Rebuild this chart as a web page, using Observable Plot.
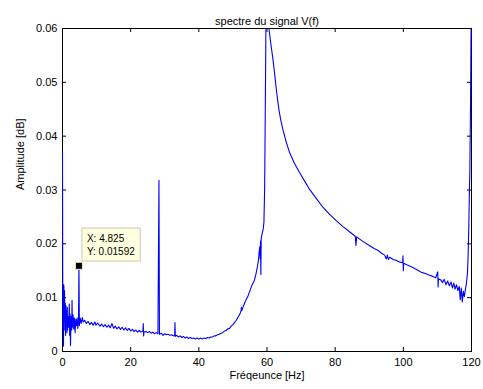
<!DOCTYPE html>
<html><head><meta charset="utf-8">
<script src="https://cdn.jsdelivr.net/npm/d3@7"></script>
<script src="https://cdn.jsdelivr.net/npm/@observablehq/plot@0.6"></script>
<style>body{margin:0;background:#fff} svg{display:block}</style>
</head><body><div id="chart"></div>
<script>
const title = "spectre du signal V(f)";
const xLabel = "Fréqeunce [Hz]";
const yLabel = "Amplitude [dB]";
const xTicks = [0, 20, 40, 60, 80, 100, 120];
const yTicks = [0, 0.01, 0.02, 0.03, 0.04, 0.05, 0.06];
const tipX = 4.825;
const tipY = 0.01592;

const freq = [
  0, 0.1, 0.2, 0.3, 0.4, 0.5, 0.6, 0.7, 0.8, 0.9, 1.0, 1.1, 1.2, 1.3, 1.4, 1.5, 1.6, 1.8, 2.0, 2.1,
  2.2, 2.35, 2.5, 2.7, 2.8, 2.9, 3.1, 3.3, 3.5, 3.7, 3.9, 4.1, 4.3, 4.5, 4.7, 4.825, 4.95, 5.2, 5.5, 5.8,
  6.1, 6.5, 7.0, 7.5, 8.0, 8.5, 9.0, 9.5, 9.8, 10.3, 11, 11.5, 12, 12.5, 13, 13.5, 14, 14.5, 15, 15.5,
  16, 16.5, 17, 17.5, 18, 18.5, 19, 19.5, 20, 20.5, 21, 21.5, 22, 22.5, 23, 23.6, 23.7, 23.8, 23.9, 24.5,
  25, 25.5, 26, 26.5, 27, 27.5, 28, 28.3, 28.45, 29, 29.5, 30, 30.5, 31, 31.5, 32, 32.5, 32.9, 33.0, 33.1,
  33.5, 34, 34.5, 35, 35.5, 36, 36.5, 37, 37.5, 38, 38.5, 39, 39.5, 40, 40.5, 41, 41.5, 42, 42.5, 43,
  43.5, 44, 44.5, 45, 45.5, 46, 46.5, 47, 47.5, 48, 48.5, 49, 49.5, 50, 50.5, 51, 51.5, 52, 52.4, 52.5,
  52.6, 53, 53.5, 54, 54.3, 55, 55.5, 56, 56.3, 56.8, 57.2, 57.5, 57.7, 57.9, 58.0, 58.1, 58.2, 58.3, 58.6, 58.9,
  59.1, 59.3, 59.5, 59.7, 59.85, 60.0, 60.2, 60.5, 60.7, 61.2, 61.7, 62.2, 62.6, 63.1, 63.6, 64.1, 64.6, 65.5, 66.6, 68,
  69.5, 71, 72.4, 74.5, 76.4, 78.3, 80.3, 82.3, 84.3, 85.9, 86.1, 86.3, 88, 90, 91.6, 92.5, 93.5, 94.5, 95.0, 95.3,
  95.6, 96, 97, 98, 99, 99.8, 99.9, 100.0, 100.1, 101, 102.5, 104, 105.3, 106.5, 107.5, 108.5, 109.5, 110.1, 110.2, 110.3,
  111, 111.5, 112, 112.5, 113, 113.5, 114, 114.4, 114.8, 115.2, 115.6, 116, 116.4, 116.7, 117.0, 117.3, 117.6, 117.9, 118.2, 118.5,
  118.8, 119.0, 119.2, 119.4, 119.5, 119.7, 119.85, 120
];
const amp = [
  0.037, 0.004, 0.0125, 0.001, 0.0123, 0.006, 0.0113, 0.004, 0.009, 0.003, 0.0085, 0.005, 0.0075, 0.0035, 0.0082, 0.004, 0.0065, 0.0045, 0.0088, 0.003,
  0.007, 0.0011, 0.0065, 0.004, 0.0095, 0.0045, 0.0068, 0.0042, 0.0062, 0.0035, 0.006, 0.0048, 0.0062, 0.0043, 0.0058, 0.01592, 0.0048, 0.0062, 0.0052, 0.0063,
  0.0055, 0.0058, 0.0052, 0.0056, 0.005, 0.0054, 0.0049, 0.0055, 0.0049, 0.0053, 0.0047, 0.0051, 0.0046, 0.005, 0.0045, 0.0049, 0.0044, 0.0052, 0.0043, 0.0047,
  0.0042, 0.0046, 0.0041, 0.0045, 0.004, 0.0044, 0.0039, 0.0043, 0.0038, 0.0041, 0.0037, 0.004, 0.0036, 0.0039, 0.0036, 0.0038, 0.0052, 0.0029, 0.0036, 0.0037,
  0.0035, 0.0037, 0.0034, 0.0036, 0.0033, 0.0035, 0.0033, 0.0318, 0.0032, 0.0034, 0.003, 0.0033, 0.0031, 0.0032, 0.003, 0.0031, 0.0029, 0.003, 0.0054, 0.0028,
  0.003, 0.0027, 0.0029, 0.0026, 0.0028, 0.0025, 0.0027, 0.0024, 0.0026, 0.0024, 0.0025, 0.0023, 0.0025, 0.0023, 0.0025, 0.0023, 0.0025, 0.0024, 0.0026, 0.0025,
  0.0027, 0.0027, 0.0029, 0.0029, 0.0031, 0.0032, 0.0034, 0.0035, 0.0038, 0.0039, 0.0042, 0.0043, 0.0047, 0.005, 0.0054, 0.0058, 0.0064, 0.0069, 0.0076, 0.0082,
  0.0076, 0.0083, 0.0091, 0.0098, 0.0101, 0.0113, 0.0122, 0.0128, 0.0132, 0.0145, 0.0158, 0.017, 0.0185, 0.0195, 0.0172, 0.0205, 0.0143, 0.021, 0.022, 0.0228,
  0.024, 0.03, 0.045, 0.062, 0.075, 0.068, 0.063, 0.0605, 0.0593, 0.0568, 0.0545, 0.0518, 0.0494, 0.0468, 0.0445, 0.0428, 0.0414, 0.0392, 0.037, 0.035,
  0.0333, 0.0317, 0.0302, 0.0284, 0.0268, 0.0255, 0.0243, 0.0232, 0.0222, 0.0214, 0.0197, 0.0213, 0.0205, 0.0197, 0.0191, 0.0188, 0.0183, 0.0179, 0.0172, 0.0179,
  0.0171, 0.0175, 0.0171, 0.0169, 0.0166, 0.0165, 0.0178, 0.015, 0.0164, 0.0161, 0.0157, 0.0152, 0.0147, 0.0145, 0.0142, 0.014, 0.0137, 0.0148, 0.012, 0.0135,
  0.0133, 0.0128, 0.0134, 0.0124, 0.0131, 0.0122, 0.0129, 0.0118, 0.0127, 0.0116, 0.0124, 0.0113, 0.0121, 0.0096, 0.0118, 0.0092, 0.0112, 0.0102, 0.0115, 0.0126,
  0.0145, 0.0175, 0.0231, 0.03, 0.033, 0.045, 0.058, 0.07
];

const data = freq.map((f, i) => ({f, a: amp[i]}));
const W = 483, H = 389;
const mL = 62, mR = 12, mT = 28, mB = 38;
const fw = W - mL - mR, fh = H - mT - mB;
const font = "'Liberation Sans', Arial, sans-serif";

const chart = Plot.plot({
  width: W, height: H,
  marginLeft: mL, marginRight: mR, marginTop: mT, marginBottom: mB,
  style: {fontFamily: font, fontSize: "11px", color: "black", background: "white"},
  x: {domain: [0, 120], ticks: xTicks, tickSize: 0, tickPadding: 7, label: null},
  y: {domain: [0, 0.06], ticks: yTicks, tickSize: 0, tickPadding: 5, label: null,
      tickFormat: d => d === 0 ? "0" : d.toFixed(2)},
  marks: [
    Plot.frame({stroke: "black"}),
    Plot.tickX(xTicks, {x: d => d, insetTop: fh - 4, stroke: "black"}),
    Plot.tickX(xTicks, {x: d => d, insetBottom: fh - 4, stroke: "black"}),
    Plot.tickY(yTicks, {y: d => d, insetRight: fw - 4, stroke: "black"}),
    Plot.tickY(yTicks, {y: d => d, insetLeft: fw - 4, stroke: "black"}),
    Plot.line(data, {x: "f", y: "a", stroke: "#0000ff", strokeWidth: 1.1}),
    Plot.text([title], {text: d => d, frameAnchor: "top", dy: -11, fontSize: 11}),
    Plot.text([xLabel], {text: d => d, frameAnchor: "bottom", dy: 27, fontSize: 11}),
    Plot.text([yLabel], {text: d => d, frameAnchor: "left", dx: -42, rotate: -90, fontSize: 11}),
    Plot.dot([{f: tipX, a: tipY}], {x: "f", y: "a", symbol: "square", r: 4, fill: "black", stroke: "#f0f0b0", strokeWidth: 1}),
    Plot.text([{f: tipX, a: tipY}], {x: "f", y: "a", text: d => `X: ${d.f}\nY: ${d.a}`,
      textAnchor: "start", lineAnchor: "top", dx: 8, dy: -33, fontSize: 10, lineHeight: 1.3,
      fill: "black"})
  ]
});
document.getElementById("chart").appendChild(chart);

// clip the spectrum line to the plot frame (values run above 0.06 at 60 Hz and 120 Hz)
(function clipLine() {
  const ns = "http://www.w3.org/2000/svg";
  const defs = document.createElementNS(ns, "defs");
  const cp = document.createElementNS(ns, "clipPath");
  cp.setAttribute("id", "frameclip");
  const r = document.createElementNS(ns, "rect");
  r.setAttribute("x", mL - 2); r.setAttribute("y", mT);
  r.setAttribute("width", fw + 4); r.setAttribute("height", fh + 2);
  cp.appendChild(r); defs.appendChild(cp); chart.insertBefore(defs, chart.firstChild);
  chart.querySelectorAll("path").forEach(p => {
    if ((p.getAttribute("stroke") || p.parentNode.getAttribute("stroke")) === "#0000ff") {
      p.setAttribute("clip-path", "url(#frameclip)");
    }
  });
})();

// background box for the data tip, sized from the rendered text
const tipText = Array.from(chart.querySelectorAll("text")).find(t => t.textContent.includes("X:"));
if (tipText) {
  const bb = tipText.getBBox();
  const rect = document.createElementNS("http://www.w3.org/2000/svg", "rect");
  rect.setAttribute("x", bb.x - 5);
  rect.setAttribute("y", bb.y - 5);
  rect.setAttribute("width", bb.width + 10);
  rect.setAttribute("height", bb.height + 9);
  rect.setAttribute("fill", "#ffffe1");
  rect.setAttribute("stroke", "#c8c8b0");
  const tr = tipText.getAttribute("transform");
  if (tr) rect.setAttribute("transform", tr);
  const g = tipText.parentNode;
  g.insertBefore(rect, tipText);
}
</script>
</body></html>
